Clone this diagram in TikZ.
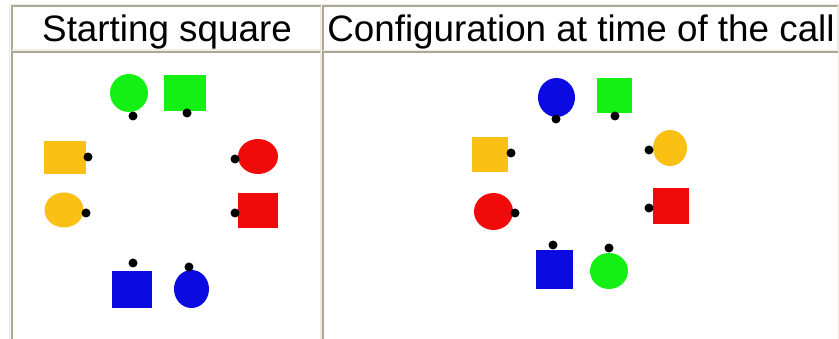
\documentclass[tikz,border=0pt]{standalone}
\usepackage{fontspec}
\setmainfont{Liberation Sans}
\usetikzlibrary{shapes.geometric}
\definecolor{tlight}{HTML}{EEEBDD}
\definecolor{tdark}{HTML}{ACA899}
\definecolor{cgreen}{RGB}{20,240,20}
\definecolor{cred}{RGB}{240,10,10}
\definecolor{cblue}{RGB}{10,10,225}
\definecolor{cyellow}{RGB}{250,192,20}
\begin{document}
\begin{tikzpicture}[x=1pt,y=-1pt,
  sq/.style={rectangle,inner sep=0pt,draw=none},
  ci/.style={ellipse,inner sep=0pt,draw=none},
  blackdot/.style={circle,fill=black,inner sep=0pt,minimum size=9pt},
  hdr/.style={anchor=base,inner sep=0pt,font=\fontsize{36.8}{40}\selectfont},
  lightln/.style={draw=tlight,line width=1.5pt},
  darkln/.style={draw=tdark,line width=2pt}]
\useasboundingbox[fill=white] (0,0) rectangle (839,339);
% table outer border (light)
\draw[lightln] (9.7,345) -- (9.7,4.7) -- (838.3,4.7) -- (838.3,345);
% header cells
\draw[darkln] (12,51) -- (12,6.3) -- (321,6.3);
\draw[lightln] (321,6.3) -- (320.8,49.8) -- (12,49.8);
\draw[darkln] (323.2,51) -- (323.2,6.3) -- (837.5,6.3);
\draw[lightln] (837.5,6.3) -- (837.5,50.5) -- (323.2,50.5);
% body cells
\draw[darkln] (12,345) -- (12,52.3) -- (321,52.3);
\draw[lightln] (320.8,52.3) -- (320.8,345);
\draw[darkln] (323.2,345) -- (323.2,52.3) -- (837.5,52.3);
% header texts
\node[hdr] (h1) at (167,42) {Starting square};
\node[hdr] (h2) at (581,42) {Configuration at time of the call};
% left panel shapes
\node[ci,fill=cgreen,minimum width=38pt,minimum height=38pt] (gc1) at (129,93) {};
\node[sq,fill=cgreen,minimum width=42pt,minimum height=36pt] (gs1) at (185,93) {};
\node[sq,fill=cyellow,minimum width=42pt,minimum height=33pt] (ys1) at (65,157.5) {};
\node[ci,fill=cyellow,minimum width=39pt,minimum height=35pt] (yc1) at (64,210) {};
\node[ci,fill=cred,minimum width=40pt,minimum height=35pt] (rc1) at (258,156.5) {};
\node[sq,fill=cred,minimum width=40pt,minimum height=35pt] (rs1) at (258,210.5) {};
\node[sq,fill=cblue,minimum width=40pt,minimum height=37pt] (bs1) at (132,289.5) {};
\node[ci,fill=cblue,minimum width=35pt,minimum height=38pt] (bc1) at (191.5,289) {};
% left panel dots
\node[blackdot] (gc1d) at (133,116) {};
\node[blackdot] (gs1d) at (187,113) {};
\node[blackdot] (ys1d) at (88,157) {};
\node[blackdot] (yc1d) at (86,213) {};
\node[blackdot] (rc1d) at (235,159) {};
\node[blackdot] (rs1d) at (235,213) {};
\node[blackdot] (bs1d) at (133,263) {};
\node[blackdot] (bc1d) at (189,267) {};
% right panel shapes
\node[ci,fill=cblue,minimum width=37pt,minimum height=39pt] (bc2) at (556.5,97.5) {};
\node[sq,fill=cgreen,minimum width=35pt,minimum height=35pt] (gs2) at (614.5,95.5) {};
\node[sq,fill=cyellow,minimum width=36pt,minimum height=35pt] (ys2) at (490,154.5) {};
\node[ci,fill=cyellow,minimum width=34pt,minimum height=36pt] (yc2) at (670,148) {};
\node[ci,fill=cred,minimum width=39pt,minimum height=37pt] (rc2) at (493.5,211.5) {};
\node[sq,fill=cred,minimum width=36pt,minimum height=36pt] (rs2) at (671,206) {};
\node[sq,fill=cblue,minimum width=37pt,minimum height=39pt] (bs2) at (554.5,269.5) {};
\node[ci,fill=cgreen,minimum width=38pt,minimum height=36pt] (gc2) at (609,271) {};
% right panel dots
\node[blackdot] (bc2d) at (556,119) {};
\node[blackdot] (gs2d) at (615,116) {};
\node[blackdot] (ys2d) at (511,153) {};
\node[blackdot] (yc2d) at (649,150) {};
\node[blackdot] (rc2d) at (515,213) {};
\node[blackdot] (rs2d) at (649,208) {};
\node[blackdot] (bs2d) at (553,245) {};
\node[blackdot] (gc2d) at (609,248) {};
\end{tikzpicture}
\end{document}
